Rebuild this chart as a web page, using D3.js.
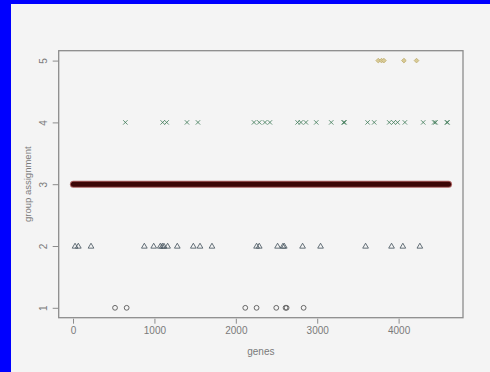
<!DOCTYPE html>
<html><head><meta charset="utf-8">
<script src="https://cdn.jsdelivr.net/npm/d3@7"></script>
<style>html,body{margin:0;padding:0;background:#f4f4f4;}svg{display:block;}</style>
</head><body>
<script>
// Gene positions for each group assignment
const group1 = [516, 659, 2116, 2255, 2497, 2611, 2624, 2833];
const group2 = [25, 65, 221, 876, 991, 1072, 1097, 1117, 1162, 1281, 1478, 1560, 1707, 2255, 2288, 2513, 2579, 2595, 2820, 3041, 3594, 3913, 4052, 4261];
const group3Range = [5, 4613]; // dense band of points, first to last gene
const group4 = [643, 1101, 1150, 1400, 1535, 2223, 2288, 2358, 2419, 2759, 2800, 2861, 2988, 3172, 3324, 3336, 3619, 3700, 3885, 3938, 3987, 4077, 4302, 4437, 4454, 4593, 4601];
const group5 = [3750, 3790, 3819, 4065, 4220];
const xTicks = [0, 1000, 2000, 3000, 4000];
const yTicks = [1, 2, 3, 4, 5];

(function () {
const W = 490, H = 372;
const svg = d3.select("body").append("svg").attr("width", W).attr("height", H);
svg.append("rect").attr("width", W).attr("height", H).attr("fill", "#f4f4f4");
svg.append("rect").attr("x",0).attr("y",0).attr("width",11).attr("height",H).attr("fill","#0000ff");
svg.append("rect").attr("x",0).attr("y",0).attr("width",W).attr("height",4).attr("fill","#0000ff");

const pL = 58.7, pR = 463, pT = 50.7, pB = 317.7;
const x = d3.scaleLinear().domain([-176, 4791]).range([pL, pR]);
const y = d3.scaleLinear().domain([0.84, 5.16]).range([pB, pT]);

const axisCol = "#8c8c8c", textCol = "#7a7a7a";
const font = "Liberation Sans, Arial, sans-serif";

// band for group 3
svg.append("line").attr("x1", x(group3Range[0])).attr("x2", x(group3Range[1]))
  .attr("y1", y(3)).attr("y2", y(3)).attr("stroke", "#8a2020").attr("stroke-width", 7)
  .attr("stroke-linecap", "round").attr("opacity", 0.7);
svg.append("line").attr("x1", x(group3Range[0])).attr("x2", x(group3Range[1]))
  .attr("y1", y(3)).attr("y2", y(3)).attr("stroke", "#3c0606").attr("stroke-width", 5)
  .attr("stroke-linecap", "round");

// group 1 circles
svg.append("g").selectAll("circle").data(group1).join("circle")
  .attr("cx", d => x(d)).attr("cy", y(1)).attr("r", 2.4)
  .attr("fill", "none").attr("stroke", "#5a5a5a").attr("stroke-width", 1).attr("opacity", 0.9);

// group 2 triangles
const tri = d3.symbol().type(d3.symbolTriangle).size(14);
svg.append("g").selectAll("path").data(group2).join("path")
  .attr("d", tri).attr("transform", d => `translate(${x(d)},${y(2)+0.5})`)
  .attr("fill", "none").attr("stroke", "#4a5861").attr("stroke-width", 1).attr("opacity", 0.85);

// group 4 crosses
svg.append("g").selectAll("path").data(group4).join("path")
  .attr("d", d => { const cx = x(d), cy = y(4), s = 2.2;
    return `M${cx-s},${cy-s}L${cx+s},${cy+s}M${cx-s},${cy+s}L${cx+s},${cy-s}`; })
  .attr("stroke", "#3f7a58").attr("stroke-width", 1).attr("fill", "none").attr("opacity", 0.8);

// group 5 diamonds
svg.append("g").selectAll("path").data(group5).join("path")
  .attr("d", d => { const cx = x(d), cy = y(5), s = 2.3;
    return `M${cx},${cy-s}L${cx+s},${cy}L${cx},${cy+s}L${cx-s},${cy}Z`; })
  .attr("fill", "#d9cc98").attr("stroke", "#c6b57c").attr("stroke-width", 1);

// box
svg.append("rect").attr("x", pL).attr("y", pT).attr("width", pR-pL).attr("height", pB-pT)
  .attr("fill", "none").attr("stroke", axisCol).attr("stroke-width", 1.3);

// x axis
const xa = svg.append("g").attr("transform", `translate(0,${pB})`)
  .call(d3.axisBottom(x).tickValues(xTicks).tickSize(5).tickPadding(5).tickFormat(d3.format("d")));
xa.select(".domain").attr("stroke", "none");
xa.selectAll(".tick line").attr("y1", 1).attr("y2", 6).attr("stroke", axisCol);
xa.selectAll(".tick text").attr("fill", textCol).style("font-family", font).style("font-size", "10px").attr("y", 9);

// y axis
const ya = svg.append("g").attr("transform", `translate(${pL},0)`)
  .call(d3.axisLeft(y).tickValues(yTicks).tickSize(6).tickFormat(d3.format("d")));
ya.select(".domain").attr("stroke", "none");
ya.selectAll(".tick line").attr("stroke", axisCol);
ya.selectAll(".tick text").attr("fill", textCol).style("font-family", font).style("font-size", "10px")
  .attr("x", null).attr("dy", null).attr("text-anchor", "middle")
  .attr("transform", "translate(-15.5,0) rotate(-90)").attr("dominant-baseline", "central");

// labels
svg.append("text").attr("x", (pL+pR)/2).attr("y", 355).attr("text-anchor", "middle")
  .attr("fill", textCol).style("font-family", font).style("font-size", "10px").text("genes");
svg.append("text").attr("transform", `translate(27,${(pT+pB)/2}) rotate(-90)`)
  .attr("text-anchor", "middle").attr("dominant-baseline", "central")
  .attr("fill", textCol).style("font-family", font).style("font-size", "9.5px").text("group assignment");
})();
</script>
</body></html>
